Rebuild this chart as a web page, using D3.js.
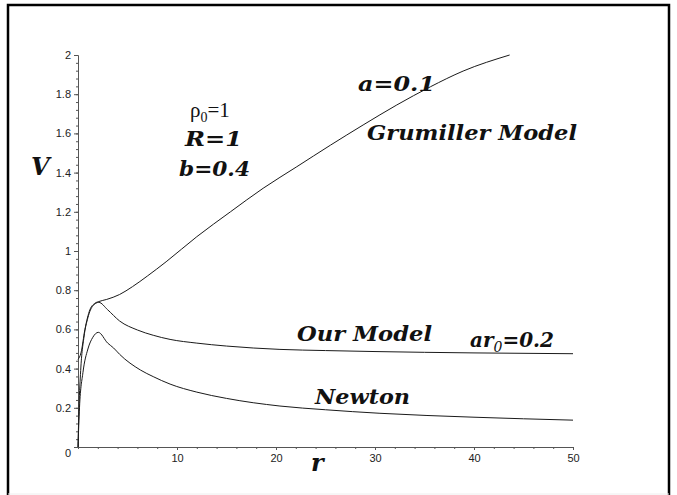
<!DOCTYPE html>
<html>
<head>
<meta charset="utf-8">
<script src="https://cdn.jsdelivr.net/npm/d3@7"></script>
<style>
  body { margin: 0; background: #fff; }
  .tick text { font-family: "Liberation Sans", Arial, sans-serif; font-size: 11px; fill: #222; }
  .axis path, .axis line { stroke: #555; }
  .lbl { font-family: "DejaVu Serif", serif; font-weight: bold; font-style: italic; fill: #111; }
</style>
</head>
<body>
<svg id="chart" width="677" height="495"></svg>
<script>
// values (r, V)
var grumillerR = [0, 0.3, 0.7, 1.2, 1.7, 2.1, 2.9, 4.2, 5.5, 7, 8.9, 12, 15.4, 18.7, 22.1, 25.5, 28.8, 32.2, 35.6, 38.9, 43.6];
var grumillerV = [0.447, 0.48, 0.6, 0.7, 0.733, 0.742, 0.753, 0.778, 0.818, 0.872, 0.945, 1.073, 1.2, 1.32, 1.43, 1.54, 1.643, 1.745, 1.838, 1.918, 2.0];

var ourModelR = [0, 0.1, 0.27, 0.6, 1.0, 1.5, 2.1, 3, 4.2, 6, 7.6, 9.3, 12, 15, 20.4, 25, 30, 40, 50];
var ourModelV = [0, 0.2, 0.39, 0.56, 0.66, 0.72, 0.738, 0.7, 0.643, 0.597, 0.57, 0.549, 0.53, 0.515, 0.498, 0.492, 0.487, 0.48, 0.476];

var newtonR = [0, 0.15, 0.5, 1.0, 1.5, 2.05, 3, 3.6, 4.2, 6.3, 7.6, 9.3, 12, 15, 20.4, 25, 30.5, 40, 50];
var newtonV = [0, 0.2, 0.38, 0.5, 0.56, 0.585, 0.53, 0.505, 0.473, 0.393, 0.359, 0.321, 0.28, 0.248, 0.209, 0.19, 0.172, 0.152, 0.137];

var xTicks = [10, 20, 30, 40, 50];
var xMinorTicks = d3.range(0, 50.01, 2);
var yTicks = [0, 0.2, 0.4, 0.6, 0.8, 1, 1.2, 1.4, 1.6, 1.8, 2];
var yMinorTicks = d3.range(0, 2.001, 0.04);

/**
 * Layout
 */
var svg = d3.select("#chart");
var x0 = 78, x1 = 573, yTop = 55, yBottom = 447;

var xScale = d3.scaleLinear().domain([0, 50]).range([x0, x1]);
var yScale = d3.scaleLinear().domain([0, 2]).range([yBottom, yTop]);

// frame
svg.append("path")
  .attr("d", "M8,495 L8,5 L669,5 L669,495")
  .attr("fill", "none")
  .attr("stroke", "#000")
  .attr("stroke-width", 2.5);
svg.append("line")
  .attr("x1", 8).attr("x2", 669).attr("y1", 494).attr("y2", 494)
  .attr("stroke", "#eee");

// minor ticks
svg.append("g")
  .attr("class", "axis")
  .attr("transform", "translate(0," + yBottom + ")")
  .call(d3.axisBottom(xScale).tickValues(xMinorTicks).tickSize(2).tickSizeOuter(0).tickFormat(""));
svg.append("g")
  .attr("class", "axis")
  .attr("transform", "translate(" + x0 + ",0)")
  .call(d3.axisLeft(yScale).tickValues(yMinorTicks).tickSize(2).tickSizeOuter(0).tickFormat(""));

// major ticks
var xAxis = svg.append("g")
  .attr("class", "axis")
  .attr("transform", "translate(0," + yBottom + ")")
  .call(d3.axisBottom(xScale).tickValues(xTicks).tickSize(3).tickSizeOuter(0).tickPadding(4));

var yAxis = svg.append("g")
  .attr("class", "axis")
  .attr("transform", "translate(" + x0 + ",0)")
  .call(d3.axisLeft(yScale).tickValues(yTicks).tickSize(4).tickSizeOuter(0).tickPadding(3)
    .tickFormat(d3.format("~g")));

// maple drops the zero label a little
yAxis.selectAll(".tick text").filter(function(d) { return d === 0; }).attr("dy", "0.9em");

// curves
var line = d3.line()
  .x(function(d) { return xScale(d[0]); })
  .y(function(d) { return yScale(d[1]); })
  .curve(d3.curveMonotoneX);

function pairs(rs, vs) {
  return rs.map(function(r, i) { return [r, vs[i]]; });
}

[pairs(grumillerR, grumillerV), pairs(ourModelR, ourModelV), pairs(newtonR, newtonV)].forEach(function(s) {
  svg.append("path")
    .attr("d", line(s))
    .attr("fill", "none")
    .attr("stroke", "#1a1a1a")
    .attr("stroke-width", 1);
});

// axis titles
svg.append("text").attr("class", "lbl")
  .attr("x", 31).attr("y", 175).attr("font-size", 24).text("V");
svg.append("text").attr("class", "lbl")
  .attr("x", 311).attr("y", 471).attr("font-size", 24).text("r");

// annotations
var rho = svg.append("text")
  .attr("x", 190).attr("y", 117)
  .attr("font-family", "Liberation Serif, serif")
  .attr("font-size", 21)
  .attr("fill", "#111");
rho.append("tspan").text("ρ");
rho.append("tspan").attr("dy", 5).attr("font-size", 14).text("0");
rho.append("tspan").attr("dy", -5).text("=1");

function label(txt, x, y, size, len) {
  return svg.append("text").attr("class", "lbl")
    .attr("x", x).attr("y", y)
    .attr("font-size", size)
    .attr("textLength", len)
    .attr("lengthAdjust", "spacingAndGlyphs")
    .text(txt);
}

label("R=1", 185, 146, 20, 57);
label("b=0.4", 179, 176, 20, 71);
label("a=0.1", 358, 91, 20, 77);
label("Grumiller Model", 367, 140, 20, 210);
label("Our Model", 297, 341, 20, 135);
label("Newton", 315, 404, 20, 95);

var ar = svg.append("text").attr("class", "lbl")
  .attr("x", 470).attr("y", 347)
  .attr("font-size", 20);
ar.append("tspan").text("ar");
ar.append("tspan").attr("dy", 5).attr("font-size", 14).attr("font-weight", "normal").text("0");
ar.append("tspan").attr("dy", -5).text("=0.2");
</script>
</body>
</html>
